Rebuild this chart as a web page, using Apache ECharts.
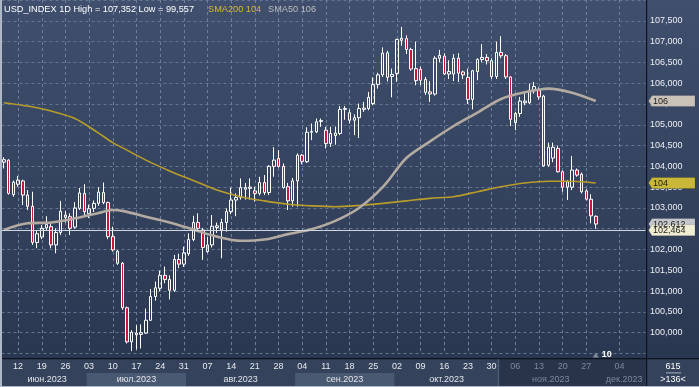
<!DOCTYPE html>
<html><head><meta charset="utf-8">
<script src="https://cdn.jsdelivr.net/npm/echarts@6/dist/echarts.min.js"></script>
<style>
html,body{margin:0;padding:0;background:#2e3b53;}
#c{width:699px;height:387px;background:linear-gradient(to bottom,#3f4f6d 0px,#2a3751 359px,#34425b 359px,#34425b 387px);}
</style></head><body><div id="c"></div>
<script>
// ---- data ----
const openP = [104.1,104.15,103.32,103.57,103.65,103.31,103.04,102.17,102.3,102.52,
102.55,102.11,102.41,102.77,102.79,102.54,102.99,103.35,102.86,102.99,
103.11,103.37,103.13,102.31,101.96,101.67,100.6,99.78,99.95,99.96,
99.99,100.3,100.87,101.07,101.38,101.28,101.02,101.76,101.65,101.9,
102.24,102.65,102.47,101.95,102.11,102.53,102.47,102.65,102.91,103.19,
103.25,103.45,103.47,103.41,103.35,103.61,103.37,104.0,104.19,104.0,
103.51,103.17,103.65,104.27,104.11,104.82,104.83,105.08,104.87,104.55,
104.74,104.79,105.37,105.29,105.11,105.17,105.37,105.39,105.51,105.97,
106.2,106.73,106.16,106.23,107.08,107.07,106.81,106.35,106.33,106.09,
105.79,105.74,106.6,106.65,106.22,106.22,106.6,106.27,106.14,105.61,
106.28,106.57,106.62,106.54,106.16,106.74,106.66,106.15,105.05,105.27,
105.53,105.53,105.83,105.83,105.69,104.03,104.2,104.43,103.87,103.5,
103.5,103.91,103.81,103.41,103.21,102.8];
const closeP = [104.16,103.35,103.62,103.67,103.31,103.04,102.17,102.38,102.51,102.6,
102.11,102.41,102.92,102.83,102.51,103.0,103.36,102.91,102.98,103.11,
103.38,103.13,102.31,101.99,101.67,100.6,99.78,100.01,99.99,100.0,
100.3,100.87,101.08,101.38,101.28,101.02,101.76,101.65,101.92,102.24,
102.65,102.51,102.05,102.11,102.56,102.57,102.65,102.91,103.19,103.25,
103.49,103.49,103.5,103.35,103.61,103.37,104.0,104.15,104.0,103.49,
103.17,103.65,104.27,104.12,104.82,104.84,105.07,105.1,104.55,104.79,
104.8,105.37,105.39,105.11,105.17,105.39,105.4,105.66,105.97,106.2,
106.72,106.14,106.21,107.05,107.03,106.81,106.34,106.06,106.07,105.78,
105.74,106.6,106.67,106.22,106.28,106.6,106.24,106.2,105.61,106.3,
106.57,106.62,106.54,106.16,106.74,106.66,106.15,105.13,105.27,105.57,
105.57,105.83,105.92,105.67,104.01,104.46,104.46,103.87,103.5,103.63,
103.91,103.79,103.39,103.21,102.81,102.612];
const lowP = [103.95,103.32,103.27,103.51,103.07,102.95,102.11,102.03,102.25,102.45,
102.03,101.91,102.35,102.65,102.35,102.5,102.95,102.83,102.76,102.9,
103.05,103.09,102.25,101.95,101.63,100.55,99.74,99.557,99.6,99.62,
99.97,100.28,100.77,101.0,101.19,100.8,100.98,101.55,101.58,101.85,
102.2,102.45,101.75,101.92,102.05,102.4,101.79,102.43,102.85,102.8,
103.2,103.2,103.2,103.15,103.3,103.31,103.31,103.75,103.97,103.46,
102.95,103.03,103.03,104.05,104.08,104.63,104.8,104.95,104.43,104.47,
104.52,104.75,105.12,105.03,104.75,104.68,105.31,105.35,105.47,105.87,
106.15,106.04,105.66,106.03,106.9,106.7,106.3,105.95,105.95,105.72,
105.55,105.7,106.5,106.2,106.1,106.05,106.03,106.1,105.5,105.37,
106.07,106.5,106.45,106.1,106.1,106.6,106.1,104.97,104.87,105.19,
105.47,105.5,105.75,105.6,103.99,103.99,104.1,103.85,103.39,103.19,
103.43,103.75,103.35,103.18,102.63,102.5];
const highP = [104.22,104.17,103.66,103.77,103.68,103.43,103.39,102.47,102.59,102.8,
102.66,102.51,103.17,102.92,102.87,103.14,103.48,103.57,103.08,103.18,
103.5,103.61,103.15,102.55,101.99,101.7,100.63,100.06,100.18,100.2,
100.58,101.05,101.23,101.49,101.59,101.38,101.87,101.9,102.07,102.39,
102.81,102.87,102.52,102.3,102.83,102.65,102.74,102.99,103.49,103.35,
103.71,103.6,103.71,103.51,103.75,103.79,104.03,104.46,104.39,104.07,
103.6,103.72,104.31,104.3,104.94,105.03,105.15,105.15,104.95,104.95,
104.96,105.45,105.45,105.37,105.25,105.51,105.55,105.79,106.14,106.25,
106.86,106.78,106.35,107.07,107.352,107.15,106.85,107.0,106.4,106.15,
106.05,106.65,106.8,106.72,106.55,106.7,106.72,106.3,106.35,106.32,
106.6,106.94,106.7,106.6,107.0,107.13,106.7,106.16,105.31,105.67,
105.75,105.99,106.03,105.9,105.72,104.57,104.57,104.5,103.9,103.67,
104.25,103.95,103.85,103.45,103.33,102.82];

// moving averages, read at sample days
const smaDates = ['2023-06-07','2023-06-14','2023-06-21','2023-06-28','2023-07-05','2023-07-10','2023-07-12','2023-07-19','2023-07-26','2023-08-02','2023-08-09','2023-08-16','2023-08-23','2023-08-30','2023-09-06','2023-09-13','2023-09-20','2023-09-27','2023-10-04','2023-10-11','2023-10-18','2023-10-25','2023-11-01','2023-11-08','2023-11-15','2023-11-22','2023-11-29'];
const sma50 = [102.47,102.63,102.65,102.75,102.88,102.95,102.93,102.79,102.65,102.48,102.31,102.21,102.24,102.37,102.49,102.69,103.0,103.5,104.2,104.6,104.97,105.29,105.62,105.78,105.87,105.77,105.57];
const sma200 = [105.53,105.45,105.33,105.15,104.8,104.57,104.45,104.15,103.89,103.66,103.43,103.27,103.17,103.09,103.05,103.03,103.06,103.11,103.17,103.23,103.27,103.39,103.51,103.6,103.64,103.64,103.6];

const tickDays = ['2023-06-12','2023-06-19','2023-06-26','2023-07-03','2023-07-10','2023-07-17','2023-07-24','2023-07-31','2023-08-07','2023-08-14','2023-08-21','2023-08-28','2023-09-04','2023-09-11','2023-09-18','2023-09-25','2023-10-02','2023-10-09','2023-10-16','2023-10-23','2023-10-30','2023-11-06','2023-11-13','2023-11-20','2023-11-27','2023-12-04'];
const monthNames = ['янв','фев','мар','апр','май','июн','июл','авг','сен','окт','ноя','дек'];
const priceLine = 102.464;
const firstDay = '2023-06-07', lastTradeDay = '2023-11-29', totalSlots = 136;
const dimFrom = '2023-11-01';

// ---- categories: trading days, then calendar days ahead ----
function fmt(d){return d.toISOString().slice(0,10);}
const categories = [];
(function(){
  let d = new Date(firstDay+'T00:00:00Z');
  while (fmt(d) <= lastTradeDay) { const w = d.getUTCDay(); if (w!==0 && w!==6) categories.push(fmt(d)); d = new Date(d.getTime()+86400000); }
  while (categories.length < totalSlots) { categories.push(fmt(d)); d = new Date(d.getTime()+86400000); }
})();
const candleData = openP.map((o,i)=>[o, closeP[i], lowP[i], highP[i]]);
const tickSet = new Set(tickDays);
const isTick = (i)=> tickSet.has(categories[i]);
const FF = '"Liberation Sans", Arial, sans-serif';
const fmtNum = (v,d)=>v.toFixed(d).replace('.',',');

const chart = echarts.init(document.getElementById('c'), null, {renderer:'canvas', width:699, height:387});
chart.setOption({
  animation:false,
  backgroundColor:'transparent',
  grid:{left:1.5, top:0, width:644, height:353.5, containLabel:false, outerBoundsMode:'none'},
  xAxis:{type:'category', data:categories, boundaryGap:true, offset:5.5,
    axisLine:{show:false}, axisTick:{show:false},
    splitLine:{show:true, alignWithLabel:true, interval:(i)=>isTick(i), lineStyle:{color:'#6e7e9b', type:[3,3], width:1}},
    axisLabel:{interval:(i)=>isTick(i), formatter:v=>v.slice(8), margin:3.5, fontSize:9, fontFamily:FF,
      color:(v)=> v>=dimFrom ? '#7e8899' : '#e6e9ee'}},
  yAxis:{type:'value', position:'right', min:99.5, max:108, interval:0.5, scale:true,
    axisLine:{show:false}, axisTick:{show:false},
    axisLabel:{margin:4.5, fontSize:9, fontFamily:FF, color:'#eceff3',
      formatter:v=> (v<99.9 || v>107.9) ? '' : fmtNum(v,3)},
    splitLine:{lineStyle:{color:'#65748f', type:[3,3], width:1}}},
  series:[
    {type:'candlestick', data:candleData, barWidth:3, z:3,
      itemStyle:{color:'rgba(0,0,0,0)', color0:'#c8163c', borderColor:'#ffffff', borderColor0:'#ffffff', borderWidth:1}},
    {type:'line', data:smaDates.map((d,i)=>[d, sma200[i]]), symbol:'none', smooth:0.3, z:4,
      lineStyle:{color:'#b99d2a', width:1.6}},
    {type:'line', data:smaDates.map((d,i)=>[d, sma50[i]]), symbol:'none', smooth:0.3, z:4,
      lineStyle:{color:'#b3aaa1', width:2.6}},
    {type:'line', data:[], z:5, silent:true,
      markLine:{silent:true, symbol:['none','none'], label:{show:false}, animation:false,
        lineStyle:{color:'#d2d8e0', type:'solid', width:1},
        data:[{yAxis:priceLine}]}}
  ]
});

// ---- decorations positioned through the chart's own scales ----
const px = d => chart.convertToPixel({xAxisIndex:0}, d);
const py = v => chart.convertToPixel({yAxisIndex:0}, v);
const bw = px(categories[1]) - px(categories[0]);
const gL = 1.5, gR = 645.5;
const g = [];
// bottom band base
g.push({type:'rect', z:-2, silent:true, shape:{x:0,y:359,width:699,height:28}, style:{fill:'#34425b'}});
// month bands
const months = [];
categories.forEach((d,i)=>{ const k=d.slice(0,7); if(!months.length || months[months.length-1].k!==k) months.push({k, first:d, last:d}); else months[months.length-1].last=d; });
months.forEach((m,j)=>{
  const x0 = Math.max(gL, px(m.first)-bw/2), x1 = Math.min(gR, px(m.last)+bw/2);
  const dim = m.first >= dimFrom;
  const fill = dim ? '#28344a' : (j%2===1 ? '#4a5972' : '#34425b');
  g.push({type:'rect', z:-1, silent:true, shape:{x:x0,y:373,width:x1-x0,height:13}, style:{fill}});
  const mi = parseInt(m.k.slice(5,7),10)-1;
  g.push({type:'text', z:2, silent:true, style:{text:monthNames[mi]+'.'+m.k.slice(0,4), x:(x0+x1)/2 + (j===0?3:0), y:379.5,
    textAlign:'center', textVerticalAlign:'middle', align:'center', verticalAlign:'middle', font:'9px '+FF, fill: dim ? '#7e8899' : '#e2e6ec'}});
});
// dim day row for the latest period
const dimX = px(dimFrom) - bw/2;
g.push({type:'rect', z:-1, silent:true, shape:{x:dimX,y:359,width:gR+1.5-dimX,height:14}, style:{fill:'#28344a'}});
g.push({type:'rect', z:-1, silent:true, shape:{x:dimX-1,y:359,width:1.5,height:27}, style:{fill:'#4d5a70'}});
// axis lines
g.push({type:'rect', z:6, silent:true, shape:{x:0,y:358,width:699,height:1.2}, style:{fill:'#0e141e'}});
g.push({type:'rect', z:6, silent:true, shape:{x:646,y:0,width:1.2,height:387}, style:{fill:'#0e141e'}});
// frame
g.push({type:'rect', z:7, silent:true, shape:{x:0,y:0,width:2,height:387}, style:{fill:'#aeb8c8'}});
g.push({type:'rect', z:7, silent:true, shape:{x:0,y:386,width:699,height:1}, style:{fill:'#aeb8c8'}});

// right-side tags
function tag(val, text, fill, txtFill){
  const yc = py(val);
  g.push({type:'polygon', z:8, silent:true, shape:{points:[[648.5,yc],[652,yc-5.5],[695,yc-5.5],[695,yc+5.5],[652,yc+5.5]]}, style:{fill, stroke:'rgba(0,0,0,0.25)', lineWidth:0.5}});
  g.push({type:'text', z:9, silent:true, style:{text, x:653, y:yc+0.5, textVerticalAlign:'middle', verticalAlign:'middle', font:'9px '+FF, fill:txtFill}});
}
const lastClose = closeP[closeP.length-1];
tag(lastClose, fmtNum(lastClose,3), '#c3c7cc', '#1c1c1c');
tag(priceLine, fmtNum(priceLine,3), '#efedd2', '#1c1c1c');
tag(sma50[sma50.length-1], String(Math.round(sma50[sma50.length-1])), '#c9c2b9', '#1c1c1c');
tag(sma200[sma200.length-1], String(Math.round(sma200[sma200.length-1])), '#c9b838', '#1c1c1c');

// title
const hi = Math.max(...highP), lo = Math.min(...lowP);
g.push({type:'text', z:9, silent:true, style:{text:'USD_INDEX 1D High = '+fmtNum(hi,3)+' Low = '+fmtNum(lo,3), x:4, y:9.5, textVerticalAlign:'middle', verticalAlign:'middle', font:'9.2px '+FF, fill:'#ffffff'}});
g.push({type:'text', z:9, silent:true, style:{text:'SMA200 '+Math.round(sma200[sma200.length-1]), x:208, y:9.5, textVerticalAlign:'middle', verticalAlign:'middle', font:'9.2px '+FF, fill:'#d9b92e'}});
g.push({type:'text', z:9, silent:true, style:{text:'SMA50 '+Math.round(sma50[sma50.length-1]), x:268, y:9.5, textVerticalAlign:'middle', verticalAlign:'middle', font:'9.2px '+FF, fill:'#bdbdbd'}});

// marker under the last bar
const lx = px(lastTradeDay);
g.push({type:'polygon', z:8, silent:true, shape:{points:[[lx-3,357.5],[lx+3,357.5],[lx,352.5]]}, style:{fill:'#7f8a9b'}});
g.push({type:'text', z:9, silent:true, style:{text:'10', x:lx+6, y:354.5, textVerticalAlign:'middle', verticalAlign:'middle', font:'bold 9px '+FF, fill:'#ffffff'}});

// bottom-right box
g.push({type:'text', z:9, silent:true, style:{text:'615', x:673, y:366.5, textAlign:'center', align:'center', textVerticalAlign:'middle', verticalAlign:'middle', font:'9px '+FF, fill:'#ffffff'}});
g.push({type:'rect', z:9, silent:true, shape:{x:666,y:372.5,width:15,height:0.8}, style:{fill:'#c8d0dc'}});
g.push({type:'text', z:9, silent:true, style:{text:'>136<', x:673, y:380, textAlign:'center', align:'center', textVerticalAlign:'middle', verticalAlign:'middle', font:'9px '+FF, fill:'#ffffff'}});

chart.setOption({graphic:{elements:g}});
</script>
</body></html>
